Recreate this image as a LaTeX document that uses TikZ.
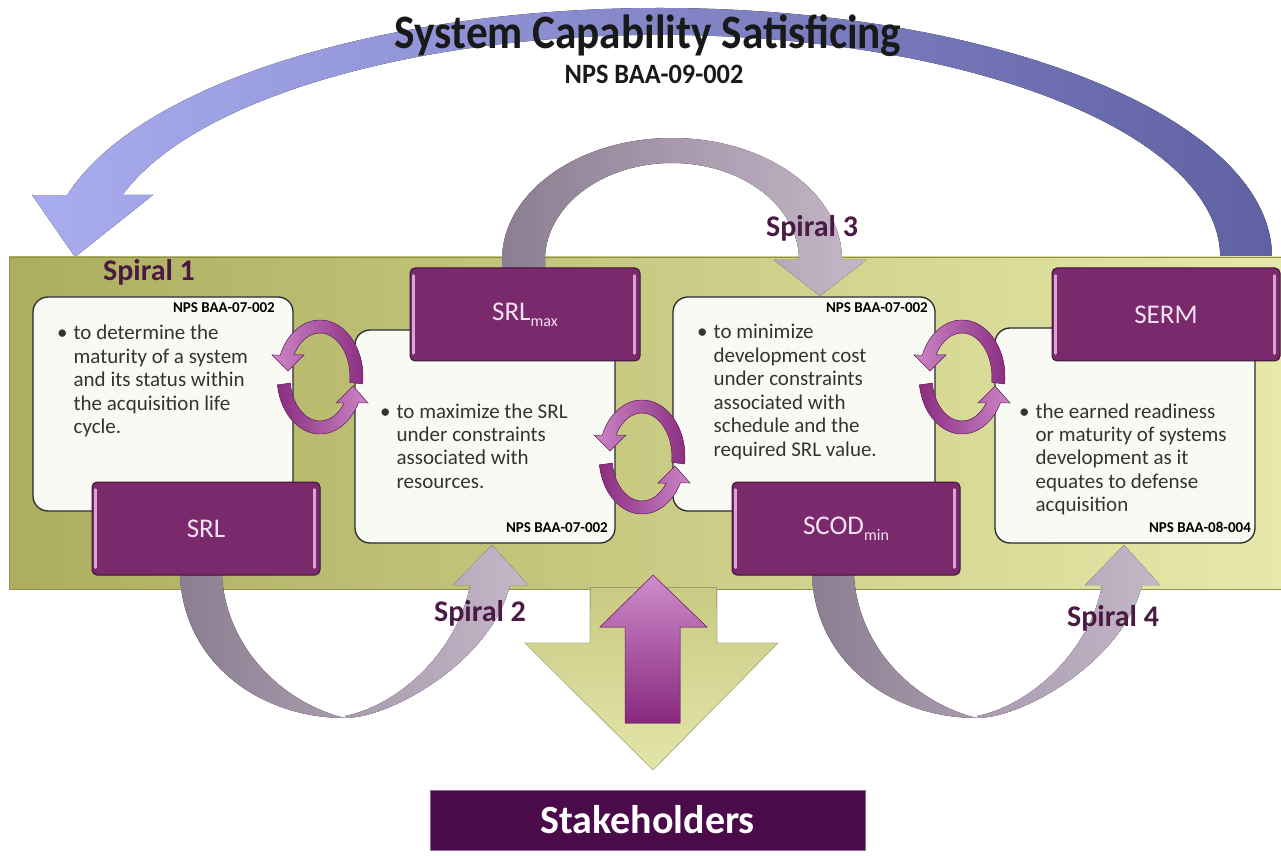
\documentclass[tikz,border=0pt]{standalone}
\usepackage{fontspec}
\setmainfont{Carlito}
\definecolor{arcl}{HTML}{A9ACEE}
\definecolor{arcd}{HTML}{5F61A2}
\definecolor{olived}{HTML}{ACAD5E}
\definecolor{olivel}{HTML}{E6E9A9}
\definecolor{oliveline}{HTML}{8E9050}
\definecolor{ribd}{HTML}{8C7E91}
\definecolor{ribm}{HTML}{A99BAE}
\definecolor{ribl}{HTML}{C4B7C8}
\definecolor{boxfill}{HTML}{FAFAF5}
\definecolor{boxline}{HTML}{2A2A2A}
\definecolor{pboxfill}{HTML}{7A2A6C}
\definecolor{pboxline}{HTML}{3E1236}
\definecolor{pboxhl}{HTML}{D9A6D4}
\definecolor{pboxtext}{HTML}{F4E2F1}
\definecolor{cycd}{HTML}{8A2D80}
\definecolor{cycl}{HTML}{CC86C6}
\definecolor{spiraltext}{HTML}{4A1A45}
\definecolor{bodytext}{HTML}{333333}
\definecolor{stake}{HTML}{4B0B4B}
\definecolor{uparrowl}{HTML}{CE8DCB}
\definecolor{uparrowd}{HTML}{88287E}
\definecolor{downl}{HTML}{E2E5A8}
\tikzset{
  wbox/.style={draw=boxline, line width=1.3pt, fill=boxfill, rounded corners=15pt, inner sep=0pt},
  pbox/.style={draw=pboxline, line width=1pt, fill=pboxfill, rounded corners=5pt, inner sep=0pt,
    text=pboxtext, font=\fontsize{27}{30}\selectfont},
  hl/.style={draw=pboxhl, line width=2.5pt, line cap=round},
  spl/.style={font=\bfseries\fontsize{30}{34}\selectfont, text=spiraltext, inner sep=0pt},
  nps/.style={font=\bfseries\fontsize{15}{17}\selectfont, inner sep=0pt, anchor=base east, text=black},
  body/.style={font=\fontsize{21}{23.5}\selectfont, inner sep=0pt, anchor=base west, text=bodytext},
  cycU/.style={left color=cycl, right color=cycd, draw=cycd!80!black, line width=0.5pt},
  cycD/.style={left color=cycd, right color=cycl, draw=cycd!80!black, line width=0.5pt},
  ribbonL/.style={left color=ribd, right color=ribm},
  ribbonR/.style={left color=ribm, right color=ribl},
}
\newcommand{\cycarrows}[2]{%
  \begin{scope}[shift={(#1,#2)}]
    \fill[cycU] (-7:43pt and 57pt) arc[start angle=-7,end angle=157.3,x radius=43pt,y radius=57pt]
      -- (-48,22) -- (-32,6) -- (-16,22) -- (-26,22)
      arc[start angle=150,end angle=-7,x radius=30pt,y radius=44pt] -- cycle;
    \fill[cycD] (188:43pt and 57pt) arc[start angle=188,end angle=332.9,x radius=43pt,y radius=57pt]
      -- (48,-26) -- (33,-9) -- (16,-26) -- (24.2,-26)
      arc[start angle=323.8,end angle=188,x radius=30pt,y radius=44pt] -- cycle;
  \end{scope}}
\newcommand{\spiralbottom}{%
  \fill[ribbonL] (180,290) -- (180,278) .. controls (185,190) and (262,137) .. (345,137)
    .. controls (290,150) and (228,200) .. (222,278) -- (222,290) -- cycle;
  \fill[ribbonR] (345,137) .. controls (392,137) and (492,195) .. (510,270)
    -- (528,270) -- (492,310) -- (453,270) -- (470,270)
    .. controls (458,205) and (400,150) .. (345,139) -- cycle;}
\begin{document}
\begin{tikzpicture}[x=1pt,y=1pt]
\useasboundingbox (0,0) rectangle (1281,855);
% big top arc
\fill[left color=arcl, right color=arcd]
  (1272,598) arc[start angle=0,end angle=165.6,x radius=612pt,y radius=249pt]
  -- (32,660) -- (75,598) -- (153,660) -- (122.4,660)
  arc[start angle=163.8,end angle=0,x radius=560pt,y radius=222pt] -- cycle;
% band
\node[draw=oliveline, line width=0.8pt, left color=olived, right color=olivel,
  minimum width=1272pt, minimum height=332pt, inner sep=0pt] (band) at (645,432) {};
% olive down arrow
\fill[top color=olived!50!olivel, bottom color=downl]
  (590.4,267.5) -- (590,212) -- (525,212) -- (653,85) -- (778,212) -- (717,212) -- (716.6,267.5) -- cycle;
\draw[draw=oliveline!70, line width=0.6pt]
  (590,266) -- (590,212) -- (525,212) -- (653,85) -- (778,212) -- (717,212) -- (717,266);
% purple up arrow
\fill[top color=uparrowl, bottom color=uparrowd, draw=uparrowd!80!black, line width=0.5pt]
  (625,132) -- (625,228) -- (600,228) -- (653,280) -- (707,228) -- (680,228) -- (680,132) -- cycle;
% spiral 3 arc
\fill[left color=ribd, right color=ribl]
  (502,582) -- (502,595) arc[start angle=180,end angle=0,x radius=170pt,y radius=122pt]
  -- (866,595) -- (820,559) -- (774,595) -- (799,595)
  arc[start angle=0,end angle=180,x radius=127pt,y radius=97pt] -- (545,582) -- cycle;
% spiral 2 and 4 ribbons
\spiralbottom
\begin{scope}[xshift=632pt]\spiralbottom\end{scope}
% white boxes
\node[wbox, minimum width=260pt, minimum height=214pt] (b1) at (163,451) {};
\node[wbox, minimum width=260pt, minimum height=213pt] (b2) at (485,418.5) {};
\node[wbox, minimum width=262pt, minimum height=214pt] (b3) at (804,451) {};
\node[wbox, minimum width=260pt, minimum height=215pt] (b4) at (1125,419.5) {};
% purple boxes
\node[pbox, minimum width=228pt, minimum height=93pt] (srl) at (206,326.5) {SRL};
\node[pbox, minimum width=230pt, minimum height=93pt] (srlmax) at (525,540.5)
  {SRL\raisebox{-6pt}{\fontsize{16}{16}\selectfont max}};
\node[pbox, minimum width=228pt, minimum height=93pt] (scod) at (846,326.5)
  {SCOD\raisebox{-6pt}{\fontsize{16}{16}\selectfont min}};
\node[pbox, minimum width=228pt, minimum height=93pt] (serm) at (1166,540.5) {SERM};
\foreach \b in {srl,srlmax,scod,serm}{
  \draw[hl] ([xshift=4pt,yshift=-8pt]\b.north west) -- ([xshift=4pt,yshift=8pt]\b.south west);
  \draw[hl] ([xshift=-6pt,yshift=-8pt]\b.north east) -- ([xshift=-6pt,yshift=8pt]\b.south east);
}
% cycle arrows
\cycarrows{320}{478}
\cycarrows{642}{398}
\cycarrows{962}{478}
% titles
\node[font=\bfseries\fontsize{48}{52}\selectfont, anchor=base, inner sep=0pt, text=black!90] (title)
  at (648,806) {\scalebox{0.9}[1]{System Capability Satisficing}};
\node[font=\bfseries\fontsize{28}{30}\selectfont, anchor=base, inner sep=0pt, text=black!90] (sub)
  at (654,771) {\scalebox{0.94}[1]{NPS BAA-09-002}};
% spiral labels
\node[spl] (s1) at (149,583) {Spiral 1};
\node[spl] (s3) at (812,627) {Spiral 3};
\node[spl] (s2) at (480,242) {Spiral 2};
\node[spl] (s4) at (1113,237) {Spiral 4};
% NPS labels
\node[nps] (n1) at (275,542) {NPS BAA-07-002};
\node[nps] (n2) at (608,323) {NPS BAA-07-002};
\node[nps] (n3) at (928,542) {NPS BAA-07-002};
\node[nps] (n4) at (1251,323) {NPS BAA-08-004};
% body texts
\node[body] (t1) at (57,515) {\begin{tabular}[t]{@{}l@{\hspace{6pt}}l@{}}\textbullet & to determine the\\ & maturity of a system\\ & and its status within\\ & the acquisition life\\ & cycle.\end{tabular}};
\node[body] (t2) at (380,437) {\begin{tabular}[t]{@{}l@{\hspace{6pt}}l@{}}\textbullet & to maximize the SRL\\ & under constraints\\ & associated with\\ & resources.\end{tabular}};
\node[body] (t3) at (697,516) {\begin{tabular}[t]{@{}l@{\hspace{6pt}}l@{}}\textbullet & to minimize\\ & development cost\\ & under constraints\\ & associated with\\ & schedule and the\\ & required SRL value.\end{tabular}};
\node[body] (t4) at (1019,437) {\begin{tabular}[t]{@{}l@{\hspace{6pt}}l@{}}\textbullet & the earned readiness\\ & or maturity of systems\\ & development as it\\ & equates to defense\\ & acquisition\end{tabular}};
% stakeholders
\node[fill=stake, draw=stake!60, line width=1pt, minimum width=435pt, minimum height=60pt, inner sep=0pt,
  text=white, font=\bfseries\fontsize{40}{44}\selectfont] (stake) at (647.5,35) {Stakeholders};
\end{tikzpicture}
\end{document}
